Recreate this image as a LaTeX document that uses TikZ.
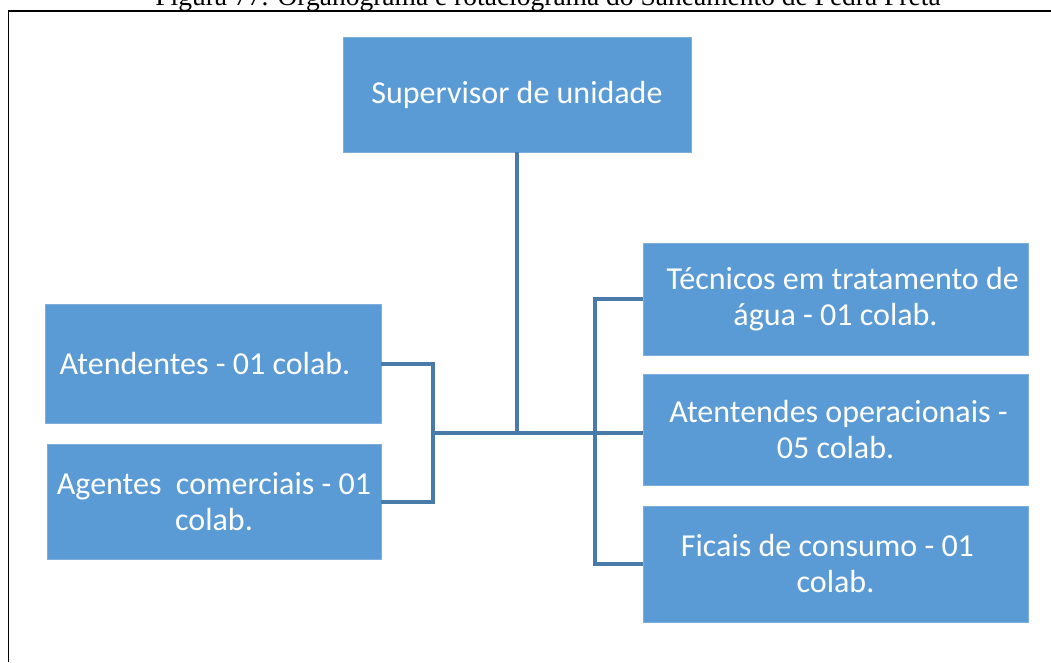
\documentclass[tikz,border=0pt]{standalone}
\usepackage{fontspec}
\setmainfont{Carlito}
\newfontfamily\capfont{Liberation Serif}
\definecolor{boxblue}{RGB}{91,155,213}
\definecolor{lineblue}{RGB}{72,122,170}
\begin{document}
\begin{tikzpicture}[x=1pt,y=-1pt,
  unit/.style={draw=boxblue!80!white,fill=boxblue,text=white,inner sep=0pt,align=center,
    font=\fontsize{32}{36}\selectfont},
  con/.style={draw=lineblue,line width=4pt}]
\useasboundingbox (0,0) rectangle (1051,662);
\clip (0,0) rectangle (1051,662);
% caption (cut at the top)
\node[anchor=base,font=\capfont\fontsize{27.5}{30}\selectfont,inner sep=0pt] (cap) at (548,5) {Figura 77. Organograma e rotaciograma do Saneamento de Pedra Preta};
\draw[line width=1.6pt] (8.5,662) |- (1051,11);
% boxes
\node[unit,minimum width=348pt,minimum height=115pt] (sup) at (517,94.5) {Supervisor de unidade};
\node[unit,minimum width=336pt,minimum height=119pt] (ate) at (213,363.5) {Atendentes - 01 colab.\hspace*{16pt}};
\node[unit,minimum width=334pt,minimum height=115pt] (age) at (214,501.5) {Agentes\ \ comerciais - 01\\colab.};
\node[unit,minimum width=385pt,minimum height=112pt] (tec) at (835.5,299) {\ \ T\'ecnicos em tratamento de\\\'agua - 01 colab.};
\node[unit,minimum width=385pt,minimum height=111pt] (opr) at (835.5,429.5) {\hspace*{6pt}Atentendes operacionais -\\05 colab.};
\node[unit,minimum width=385pt,minimum height=116pt] (fis) at (835.5,564) {Ficais de consumo - 01\hspace*{16pt}\\colab.};
% connectors
\coordinate (lj) at (433,433);
\coordinate (rj) at (595,433);
\draw[con] (sup) -- (sup |- lj);
\draw[con] (ate.east) -| (lj) |- (age.east);
\draw[con] (lj) -- (opr.west |- lj);
\draw[con] (tec.west) -| (rj) |- (fis.west);
\end{tikzpicture}
\end{document}
